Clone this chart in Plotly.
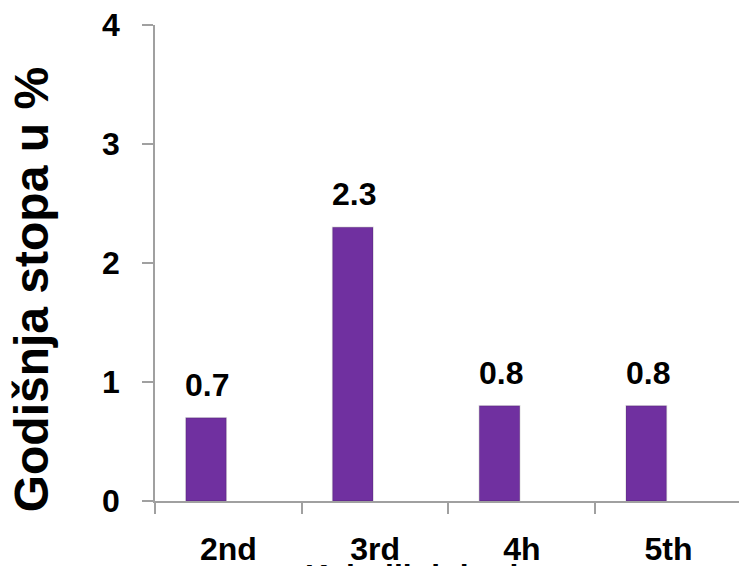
import plotly.graph_objects as go

# Quintile categories and annual rate (%)
categories = ["2nd", "3rd", "4h", "5th"]
values = [0.7, 2.3, 0.8, 0.8]
value_labels = ["0.7", "2.3", "0.8", "0.8"]
y_ticks = [0, 1, 2, 3, 4]

y_title = "Godišnja stopa u %"
x_title = "Kvintili dohotka"

FONT = "Arial, Liberation Sans, sans-serif"
PURPLE = "#7030A0"
AXIS_GRAY = "#A0A0A0"

fig = go.Figure()
fig.add_trace(go.Bar(
    x=categories,
    y=values,
    width=0.276,
    offset=-0.29,
    marker=dict(color=PURPLE, line=dict(color="rgba(0,0,0,0.12)", width=1.5)),
    hoverinfo="x+y",
))

# value labels above the bars
for cat, val, lab in zip(categories, values, value_labels):
    fig.add_annotation(
        x=cat, y=val, text=lab, showarrow=False,
        xshift=-21, yshift=13, yanchor="bottom",
        font=dict(family=FONT, size=32, color="black", weight="bold"),
    )

# rotated y-axis title
fig.add_annotation(
    xref="paper", yref="paper", x=-0.212, y=0.443,
    text=y_title, textangle=-90, showarrow=False,
    xanchor="center", yanchor="middle",
    font=dict(family=FONT, size=48, color="black", weight="bold"),
)

# x-axis title (sits at the bottom edge)
fig.add_annotation(
    xref="paper", yref="paper", x=0.253, y=-0.1165,
    text=x_title, showarrow=False,
    xanchor="left", yanchor="top",
    font=dict(family=FONT, size=32, color="black", weight="bold"),
)

fig.update_layout(
    width=739, height=566,
    margin=dict(l=155, r=0, t=25, b=65),
    paper_bgcolor="white", plot_bgcolor="white",
    showlegend=False,
    xaxis=dict(
        type="category",
        range=[-0.5, 3.48],
        showline=True, linecolor=AXIS_GRAY, linewidth=1.5,
        ticks="outside", tickson="boundaries", ticklen=11,
        tickcolor=AXIS_GRAY, tickwidth=1.5,
        ticklabelstandoff=19,
        showgrid=False, zeroline=False,
        tickfont=dict(family=FONT, size=32, color="black", weight="bold"),
    ),
    yaxis=dict(
        range=[0, 4],
        tickvals=y_ticks,
        showline=True, linecolor=AXIS_GRAY, linewidth=1.5,
        ticks="outside", ticklen=11, tickcolor=AXIS_GRAY, tickwidth=1.5,
        ticklabelstandoff=16,
        showgrid=False, zeroline=False,
        tickfont=dict(family=FONT, size=32, color="black", weight="bold"),
    ),
)

fig.write_html("out.html")
